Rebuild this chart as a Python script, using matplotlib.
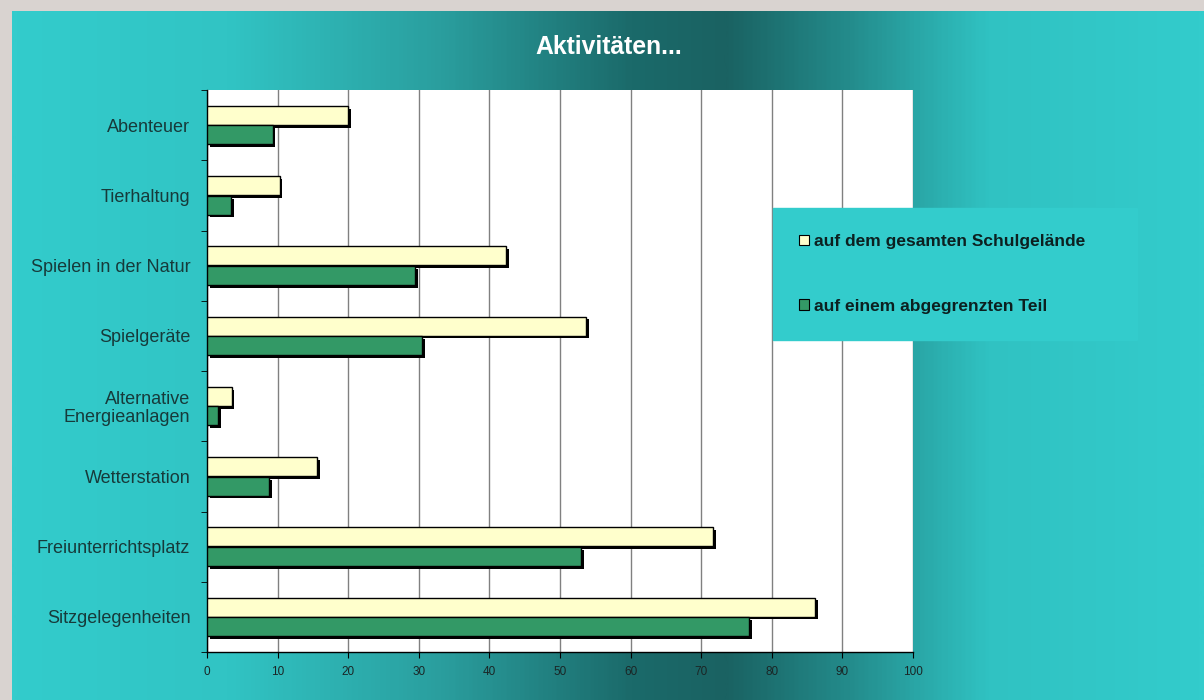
import matplotlib.pyplot as plt
import matplotlib.patheffects as pe
import numpy as np
from matplotlib.colors import LinearSegmentedColormap

plt.rcParams['font.family'] = ['Liberation Sans', 'DejaVu Sans']

categories = ['Abenteuer', 'Tierhaltung', 'Spielen in der Natur', 'Spielgeräte',
              'Alternative\nEnergieanlagen', 'Wetterstation', 'Freiunterrichtsplatz',
              'Sitzgelegenheiten']
gesamt = [20.0, 10.3, 42.4, 53.7, 3.5, 15.6, 71.7, 86.1]
teil = [9.3, 3.4, 29.5, 30.5, 1.6, 8.8, 53.0, 76.8]
series_names = ['auf dem gesamten Schulgelände', 'auf einem abgegrenzten Teil']
x_ticks = list(range(0, 101, 10))

fig = plt.figure(figsize=(12.04, 7.0), dpi=100, facecolor='#d9d3d0')

# background: horizontal teal gradient (light - dark - light)
bg = fig.add_axes([12 / 1204, 0, 1 - 12 / 1204, 689 / 700])
bg.set_axis_off()
cmap = LinearSegmentedColormap.from_list('teal', [
    (0.0, '#33cccc'), (0.18, '#31c4c4'), (0.36, '#2a9e9e'), (0.52, '#1b6a6a'),
    (0.60, '#1a6262'), (0.70, '#238a8a'), (0.82, '#30c2c2'), (1.0, '#33cccc')])
grad = np.linspace(0, 1, 600).reshape(1, -1)
bg.imshow(grad, aspect='auto', cmap=cmap, extent=[0, 1, 0, 1])

ax = fig.add_axes([207 / 1204, 48 / 700, 706 / 1204, 562 / 700])
ax.set_facecolor('white')

y = np.arange(len(categories))
shadow = [pe.SimplePatchShadow(offset=(2, -2), shadow_rgbFace='black', alpha=1), pe.Normal()]
b1 = ax.barh(y - 0.14, gesamt, height=0.27, color='#ffffcc', edgecolor='black',
             linewidth=1, label=series_names[0], zorder=3)
b2 = ax.barh(y + 0.14, teil, height=0.27, color='#339966', edgecolor='black',
             linewidth=1, label=series_names[1], zorder=3)
for b in list(b1) + list(b2):
    b.set_path_effects(shadow)

ax.set_xlim(0, 100)
ax.set_ylim(len(categories) - 0.5, -0.5)
ax.set_xticks(x_ticks)
ax.set_xticklabels([str(t) for t in x_ticks], fontsize=8.5, color='#1a2626')
ax.set_yticks(y)
ax.set_yticklabels(categories, fontsize=13, color='#173a3a', ha='right', linespacing=1.1)
ax.set_yticks(np.arange(-0.5, len(categories)), minor=True)
ax.tick_params(axis='y', which='major', length=0, pad=12)
ax.tick_params(axis='y', which='minor', length=4, direction='out', color='black')
ax.tick_params(axis='x', length=4, direction='out', color='black', pad=6)
ax.grid(axis='x', color='#808080', linewidth=1, zorder=1)
ax.set_axisbelow(True)
for s in ['top', 'right']:
    ax.spines[s].set_visible(False)
for s in ['left', 'bottom']:
    ax.spines[s].set_color('black')
    ax.spines[s].set_linewidth(1)

fig.text(609 / 1204, 1 - 47 / 700, 'Aktivitäten...', color='white', fontsize=17.8,
         fontweight='bold', ha='center', va='center')

leg = ax.legend(loc='upper left', bbox_to_anchor=(773 / 1204, 1 - 208 / 700, 364 / 1204, 0),
                bbox_transform=fig.transFigure, mode='expand', frameon=True,
                facecolor='#33cccc', edgecolor='#33cccc', framealpha=1, fancybox=False,
                prop={'weight': 'bold', 'size': 12.5}, handlelength=0.55, handleheight=0.55,
                handletextpad=0.3, labelspacing=2.85, borderpad=1.5, borderaxespad=0)
for t in leg.get_texts():
    t.set_color('#0c2020')
for h in leg.legend_handles:
    h.set_path_effects([])
    h.set_linewidth(0.8)

fig.savefig('out.png', dpi=100, facecolor=fig.get_facecolor())
